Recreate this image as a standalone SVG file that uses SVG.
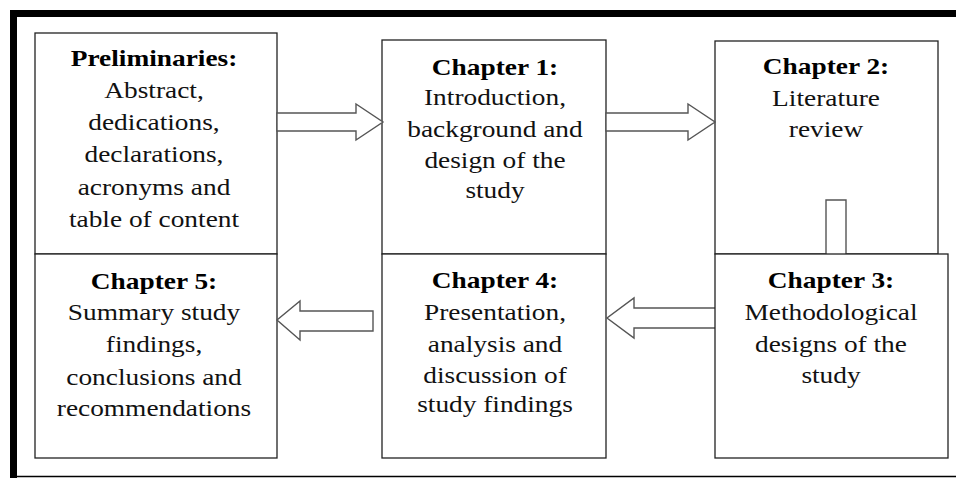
<svg xmlns="http://www.w3.org/2000/svg" width="956" height="478" viewBox="0 0 956 478">
<style>
.box{fill:#fff;stroke:#222;stroke-width:1.3}
.arr{fill:#fff;stroke:#555;stroke-width:1.4;stroke-linejoin:miter}
text{font-family:"Liberation Serif","Times New Roman",serif;font-size:24px;fill:#111;text-anchor:middle}
.h{font-weight:bold;fill:#000}
</style>
<rect width="956" height="478" fill="#fff"/>
<g id="frame">
<rect x="10" y="10" width="946" height="7" fill="#000"/>
<rect x="10" y="10" width="7" height="468" fill="#000"/>
<line x1="17" y1="476.5" x2="956" y2="476.5" stroke="#000" stroke-width="1.5"/>
</g>
<g id="prelim">
<rect class="box" x="35" y="33" width="242" height="221"/>
<g transform="matrix(1.14 0 0 1 154 0)">
<text class="h" x="0" y="66">Preliminaries:</text>
<text x="0" y="98">Abstract,</text>
<text x="0" y="130">dedications,</text>
<text x="0" y="162">declarations,</text>
<text x="0" y="195">acronyms and</text>
<text x="0" y="227">table of content</text>
</g>
</g>
<g id="ch1">
<rect class="box" x="382" y="40" width="224" height="214"/>
<g transform="matrix(1.14 0 0 1 495 0)">
<text class="h" x="0" y="75">Chapter 1:</text>
<text x="0" y="105">Introduction,</text>
<text x="0" y="137">background and</text>
<text x="0" y="168">design of the</text>
<text x="0" y="198">study</text>
</g>
</g>
<g id="ch2">
<rect class="box" x="715" y="41" width="223" height="213"/>
<g transform="matrix(1.14 0 0 1 826 0)">
<text class="h" x="0" y="74">Chapter 2:</text>
<text x="0" y="106">Literature</text>
<text x="0" y="137">review</text>
</g>
</g>
<g id="ch5">
<rect class="box" x="35" y="254" width="242" height="204"/>
<g transform="matrix(1.14 0 0 1 154 0)">
<text class="h" x="0" y="289">Chapter 5:</text>
<text x="0" y="320">Summary study</text>
<text x="0" y="352">findings,</text>
<text x="0" y="385">conclusions and</text>
<text x="0" y="416">recommendations</text>
</g>
</g>
<g id="ch4">
<rect class="box" x="382" y="254" width="224" height="204"/>
<g transform="matrix(1.14 0 0 1 495 0)">
<text class="h" x="0" y="288">Chapter 4:</text>
<text x="0" y="320">Presentation,</text>
<text x="0" y="352">analysis and</text>
<text x="0" y="383">discussion of</text>
<text x="0" y="412">study findings</text>
</g>
</g>
<g id="connectors">
<polygon class="arr" points="277,113 356,113 356,104 383,122 356,140 356,131 277,131"/>
<polygon class="arr" points="606,113 688,113 688,104 715,122 688,140 688,131 606,131"/>
<polygon class="arr" points="826,200 846,200 846,262 856,262 836,282 816,262 826,262"/>
<polygon class="arr" points="717,308 634,308 634,298 607,318 634,338 634,328 717,328"/>
<polygon class="arr" points="373,311 300,311 300,301 277,320 300,340 300,331 373,331"/>
</g>
<g id="ch3">
<rect class="box" x="715" y="254" width="233" height="204"/>
<g transform="matrix(1.14 0 0 1 831 0)">
<text class="h" x="0" y="288">Chapter 3:</text>
<text x="0" y="320">Methodological</text>
<text x="0" y="352">designs of the</text>
<text x="0" y="383">study</text>
</g>
</g>
</svg>
